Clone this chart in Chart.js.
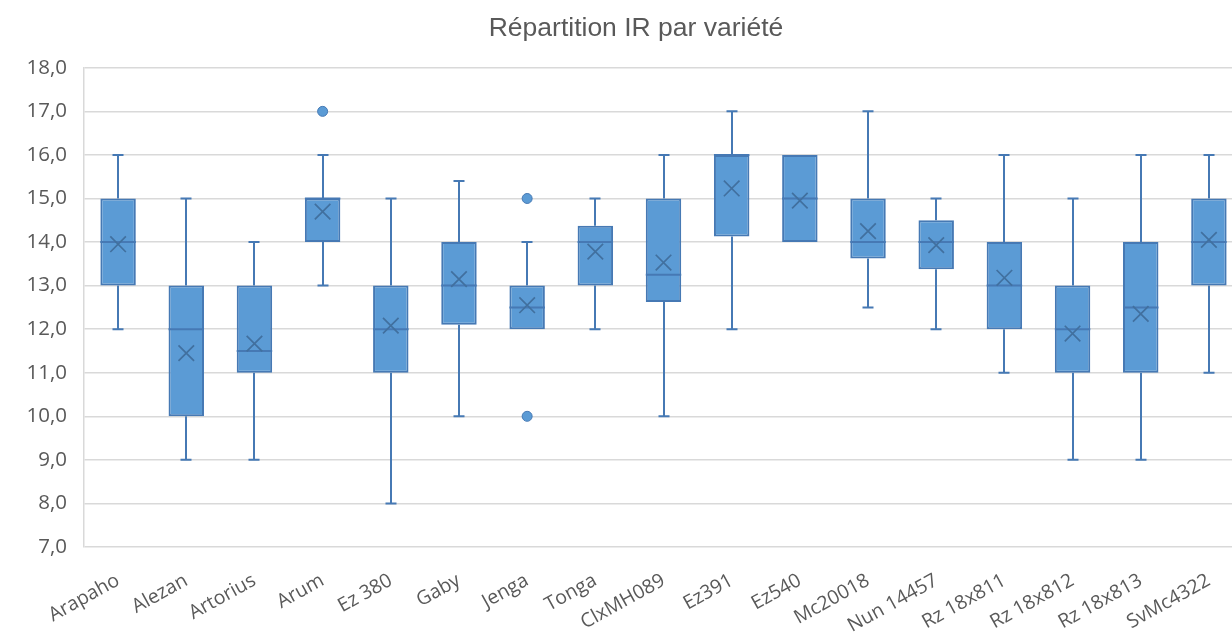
<!DOCTYPE html>
<html>
<head>
<meta charset="utf-8">
<script src="https://cdn.jsdelivr.net/npm/chart.js@4"></script>
<style>
  html, body { margin: 0; padding: 0; background: #fff; overflow: hidden; }
  #wrap { width: 1272px; height: 641px; }
</style>
</head>
<body>
<div id="wrap"><canvas id="boxChart"></canvas></div>
<script>
// Box plot data
const varieties = ['Arapaho', 'Alezan', 'Artorius', 'Arum', 'Ez 380', 'Gaby', 'Jenga', 'Tonga', 'ClxMH089',
  'Ez391', 'Ez540', 'Mc20018', 'Nun 14457', 'Rz 18x811', 'Rz 18x812', 'Rz 18x813', 'SvMc4322'];
const whiskerLow  = [12, 9, 9, 13, 8, 10, 12, 12, 10, 12, 14, 12.5, 12, 11, 9, 9, 11];
const q1          = [13, 10, 11, 14, 11, 12.1, 12, 13, 12.625, 14.125, 14, 13.625, 13.375, 12, 11, 11, 13];
const medians     = [14, 12, 11.5, 15, 12, 13, 12.5, 14, 13.25, 16, 15, 14, 14, 13, 12, 12.5, 14];
const q3          = [15, 13, 13, 15, 13, 14, 13, 14.375, 15, 16, 16, 15, 14.5, 14, 13, 14, 15];
const whiskerHigh = [16, 15, 14, 16, 15, 15.4, 14, 15, 16, 17, 16, 17, 15, 16, 15, 16, 16];
const means       = [13.95, 11.45, 11.67, 14.7, 12.08, 13.15, 12.55, 13.78, 13.53, 15.23, 14.95, 14.25, 13.93, 13.18, 11.9, 12.35, 14.05];
const outliers    = [['Arum', 17], ['Jenga', 15], ['Jenga', 10]];
const yTicks      = [7, 8, 9, 10, 11, 12, 13, 14, 15, 16, 17, 18];

const fillBlue = '#5b9bd5';
const lineBlue = '#4679b4';

// whiskers + caps behind the boxes, median lines on top of them
const boxExtras = {
  id: 'boxExtras',
  beforeDatasetsDraw(chart) {
    const ctx = chart.ctx;
    const x = chart.scales.x, y = chart.scales.y;
    ctx.save();
    ctx.strokeStyle = lineBlue;
    ctx.lineWidth = 2;
    varieties.forEach((v, i) => {
      const px = Math.round(x.getPixelForValue(i));
      const pairs = [[q3[i], whiskerHigh[i]], [q1[i], whiskerLow[i]]];
      pairs.forEach(([from, to]) => {
        if (from === to) return;
        const y0 = y.getPixelForValue(from), y1 = y.getPixelForValue(to);
        ctx.beginPath();
        ctx.moveTo(px, y0);
        ctx.lineTo(px, y1);
        ctx.moveTo(px - 5.5, y1);
        ctx.lineTo(px + 5.5, y1);
        ctx.stroke();
      });
    });
    ctx.restore();
  },
  afterDatasetDraw(chart, args) {
    if (args.index !== 0) return;
    const ctx = chart.ctx;
    const y = chart.scales.y;
    const bars = chart.getDatasetMeta(0).data;
    ctx.save();
    ctx.strokeStyle = lineBlue;
    ctx.lineWidth = 2;
    bars.forEach((bar, i) => {
      const py = y.getPixelForValue(medians[i]);
      ctx.beginPath();
      ctx.moveTo(bar.x - bar.width / 2, py);
      ctx.lineTo(bar.x + bar.width / 2, py);
      ctx.stroke();
    });
    ctx.restore();
  }
};

const ctx = document.getElementById('boxChart').getContext('2d');
const boxChart = new Chart(ctx, {
  type: 'bar',
  data: {
    labels: varieties,
    datasets: [{
      label: 'IR',
      data: varieties.map((v, i) => [q1[i], q3[i]]),
      backgroundColor: fillBlue,
      borderColor: lineBlue,
      borderWidth: 2,
      borderSkipped: false,
      barPercentage: 0.52,
      categoryPercentage: 1,
      order: 2
    }, {
      type: 'line',
      label: 'Moyenne',
      data: means,
      showLine: false,
      pointStyle: 'crossRot',
      pointRadius: 11,
      pointBorderWidth: 1.7,
      pointBorderColor: '#41709f',
      order: 1
    }, {
      type: 'line',
      label: 'Valeurs extrêmes',
      data: outliers.map(o => ({ x: o[0], y: o[1] })),
      showLine: false,
      pointStyle: 'circle',
      pointRadius: 5,
      pointBorderWidth: 1,
      pointBackgroundColor: fillBlue,
      pointBorderColor: lineBlue,
      order: 1
    }]
  },
  options: {
    responsive: true,
    maintainAspectRatio: false,
    animation: false,
    layout: { padding: 0 },
    plugins: {
      legend: { display: false },
      tooltip: { enabled: false },
      title: {
        display: true,
        text: 'Répartition IR par variété',
        color: '#595959',
        font: { family: 'Liberation Sans', size: 26.5, weight: 'normal' },
        padding: { top: 13, bottom: 23 }
      }
    },
    scales: {
      x: {
        grid: { display: false },
        border: { display: false },
        ticks: {
          color: '#595959',
          font: { family: 'Open Sans', size: 19.5 },
          minRotation: 29,
          maxRotation: 29,
          padding: 14
        },
        afterFit: (scale) => { scale.height = 94; }
      },
      y: {
        min: 7,
        max: 18,
        afterBuildTicks: (scale) => { scale.ticks = yTicks.map(v => ({ value: v })); },
        grid: { color: '#d9d9d9', lineWidth: 1.5, drawTicks: false },
        border: { display: true, color: '#d9d9d9', width: 1.5 },
        ticks: {
          color: '#595959',
          font: { family: 'Open Sans', size: 20.5 },
          padding: 17,
          callback: (value) => value.toFixed(1).replace('.', ',')
        },
        afterFit: (scale) => { scale.width = 84; }
      },
      // empty spacer on the right so the plot stops where the original did
      spacer: {
        type: 'linear',
        position: 'right',
        grid: { display: false },
        border: { display: false },
        ticks: { display: false },
        afterFit: (scale) => { scale.width = 29; }
      }
    }
  },
  plugins: [boxExtras]
});
</script>
</body>
</html>
